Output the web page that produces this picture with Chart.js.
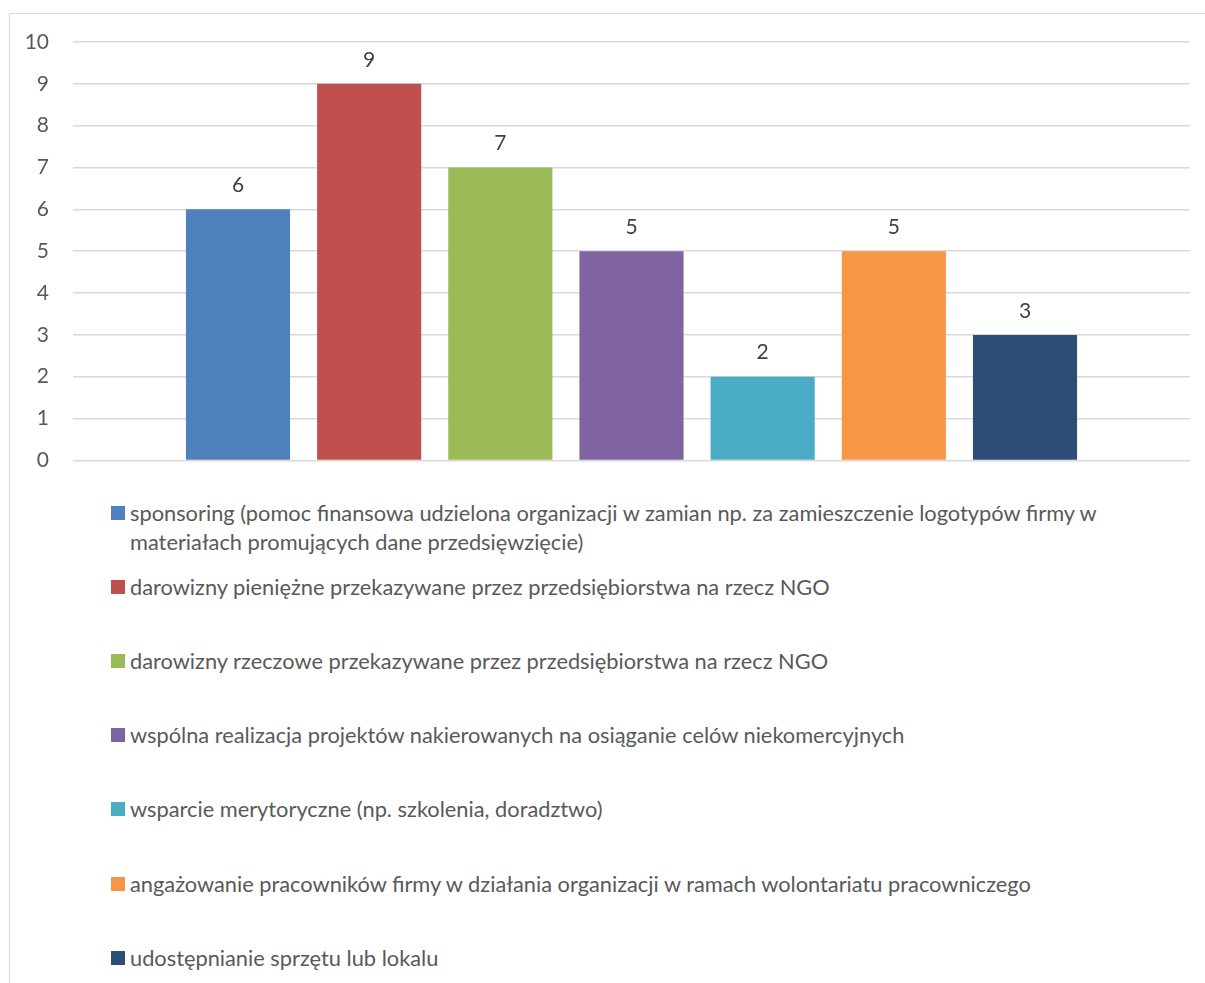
<!DOCTYPE html>
<html><head><meta charset="utf-8">
<script src="https://cdn.jsdelivr.net/npm/chart.js@4.4.0/dist/chart.umd.min.js"></script>
<style>
html,body{margin:0;padding:0;background:#fff;width:1205px;height:983px;overflow:hidden;position:relative;font-family:Lato,'Open Sans',sans-serif;}
#frame{position:absolute;left:9px;top:13px;width:1300px;height:1100px;border-left:1.5px solid #d9d9d9;border-top:1.5px solid #d9d9d9;}
#wrap{position:absolute;left:0;top:0;width:1205px;height:497px;}
#legend{position:absolute;left:0;top:0;}
.item{position:absolute;left:111px;color:#595959;font-size:21.8px;line-height:29px;white-space:nowrap;}
.sw{position:absolute;left:0;top:8px;width:14px;height:14px;}
.tx{position:absolute;left:19px;top:0;}
</style></head>
<body>
<div id="frame"></div>
<div id="wrap"><canvas id="c" width="1205" height="497"></canvas></div>
<div id="legend"></div>
<script>
const categories = [
  ["sponsoring (pomoc finansowa udzielona organizacji w zamian np. za zamieszczenie logotypów firmy w", "materiałach promujących dane przedsięwzięcie)"],
  "darowizny pieniężne przekazywane przez przedsiębiorstwa na rzecz NGO",
  "darowizny rzeczowe przekazywane przez przedsiębiorstwa na rzecz NGO",
  "wspólna realizacja projektów nakierowanych na osiąganie celów niekomercyjnych",
  "wsparcie merytoryczne (np. szkolenia, doradztwo)",
  "angażowanie pracowników firmy w działania organizacji w ramach wolontariatu pracowniczego",
  "udostępnianie sprzętu lub lokalu"
];
const values = [6, 9, 7, 5, 2, 5, 3];
const colors = ["#4F81BD", "#C0504D", "#9BBB59", "#8064A2", "#4BACC6", "#F79646", "#2C4D75"];
const yTicks = [0,1,2,3,4,5,6,7,8,9,10];

const datasets = categories.map((c, i) => ({
  label: Array.isArray(c) ? c.join(' ') : c,
  data: [values[i]],
  backgroundColor: colors[i],
  borderWidth: 0,
  categoryPercentage: 0.822,
  barPercentage: 0.794
}));

const valueLabels = {
  id: 'valueLabels',
  afterDatasetsDraw(chart) {
    const ctx = chart.ctx;
    ctx.save();
    ctx.font = '21px Lato, "Open Sans", sans-serif';
    ctx.fillStyle = '#404040';
    ctx.textAlign = 'center';
    ctx.textBaseline = 'middle';
    chart.data.datasets.forEach((ds, i) => {
      const el = chart.getDatasetMeta(i).data[0];
      ctx.fillText(String(ds.data[0]), el.x, el.y - 24);
    });
    ctx.restore();
  }
};

new Chart(document.getElementById('c'), {
  type: 'bar',
  data: { labels: [''], datasets },
  options: {
    responsive: false,
    animation: false,
    layout: { padding: { top: 42, right: 15, bottom: 20, left: 0 } },
    plugins: { legend: { display: false }, tooltip: { enabled: false } },
    scales: {
      x: { display: false },
      y: {
        min: 0, max: 10,
        afterFit(s) { s.width = 73; },
        afterBuildTicks(s) { s.ticks = yTicks.map(v => ({ value: v })); },
        border: { display: false },
        grid: { color: '#d9d9d9', lineWidth: 1.5, drawTicks: false },
        ticks: { padding: 24, color: '#595959', font: { family: 'Lato, "Open Sans", sans-serif', size: 21 } }
      }
    }
  },
  plugins: [valueLabels]
});

const legend = document.getElementById('legend');
const startY = 512 - 14.5;
const pitch = 74.2;
categories.forEach((c, i) => {
  const d = document.createElement('div');
  d.className = 'item';
  d.style.top = (startY + i * pitch) + 'px';
  const sw = document.createElement('div');
  sw.className = 'sw';
  sw.style.background = colors[i];
  const tx = document.createElement('div');
  tx.className = 'tx';
  (Array.isArray(c) ? c : [c]).forEach((line, k) => {
    if (k) tx.appendChild(document.createElement('br'));
    tx.appendChild(document.createTextNode(line));
  });
  d.appendChild(sw); d.appendChild(tx);
  legend.appendChild(d);
});
</script>
</body></html>
